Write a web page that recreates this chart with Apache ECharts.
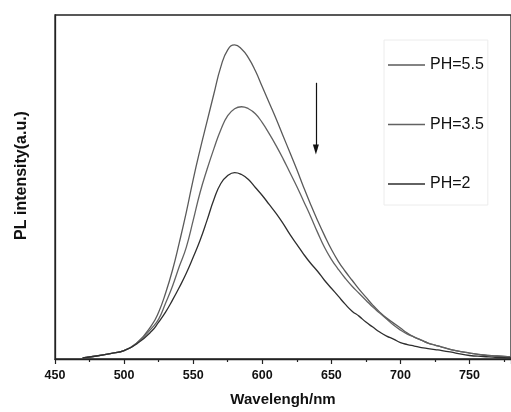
<!DOCTYPE html>
<html>
<head>
<meta charset="utf-8">
<script src="https://cdn.jsdelivr.net/npm/echarts@6/dist/echarts.min.js"></script>
<style>
html,body{margin:0;padding:0;background:#fff;}
#chart{width:511px;height:412px;}
</style>
</head>
<body>
<div id="chart"></div>
<script>
// Wavelength (nm)
var wavelengths = [470,480,490,500,510,520,
  525,530,535,540,545,550,555,560,565,570,575,580,585,590,595,600,605,610,615,620,
  625,630,635,640,645,650,655,660,665,670,675,680,685,690,695,700,705,710,715,720,725,730,
  740,750,760,770,780];
// PL intensity (a.u.)
var ph55 = [1,3,5.5,8.5,17,34,
  47,66,89,117,147,180,210,238,266,293,310,315,311,302,289,273,257,241,224,207,
  190,172,155,139,124,110,98,88,79,70,62,54,47,41,36,31,26,22,19,16,14,12,
  8.5,6,4,3,2];
var ph35 = [1,3,5.5,8.5,17,31,
  40,56,73,93,112,139,167,190,211,230,244,251,253,251,246,237,226,214,201,187,
  173,158,143,127,112,100,90,81,73,66,59,52,46,40,34,29,25,22,19,16,14,12,
  8.5,6,4,3,2];
var ph2 = [1,3,5.5,8.5,16,28,
  37,47,59,72,86,102,119,139,160,176,184,187,185,180,172,164,155,146,136,125,
  115,105,96,88,79,71,63,55,48,43,37,32,27,23,20,16.5,14.5,13,11.5,10.5,9.5,8.5,
  6,3.5,2.5,1.5,1];
var seriesNames = ['PH=5.5','PH=3.5','PH=2'];
var xTicks = [450,500,550,600,650,700,750];
// Arrow annotation (wavelength, intensity)
var arrowStart = [638.8, 277];
var arrowEnd = [638.8, 210];

function pairs(ys){ return wavelengths.map(function(w,i){ return [w, ys[i]]; }); }

var chart = echarts.init(document.getElementById('chart'), null, {renderer:'canvas'});
var fontFam = '"Liberation Sans", Arial, sans-serif';
var colors = ['#5a5a5a','#626262','#2e2e2e'];
var data = [ph55, ph35, ph2];

var series = seriesNames.map(function(n, i){
  var s = {
    name: n, type: 'line', data: pairs(data[i]), smooth: 0.5, symbol: 'none',
    lineStyle: {color: colors[i], width: 1.3}, itemStyle: {color: colors[i]},
    z: 3 + i
  };
  if (i === 0) {
    s.markLine = {
      silent: true, symbol: ['none','triangle'], symbolSize: [6, 10],
      label: {show: false},
      lineStyle: {color: '#111', width: 1.2, type: 'solid'},
      emphasis: {disabled: true},
      data: [[{coord: arrowStart}, {coord: arrowEnd}]]
    };
  }
  return s;
});

chart.setOption({
  animation: false,
  backgroundColor: '#fff',
  grid: {left: 55, right: -6, top: 15, bottom: 52, show: true, borderColor: '#222', borderWidth: 1.3},
  legend: {
    data: seriesNames, orient: 'vertical', left: 384, top: 40,
    icon: 'rect', itemWidth: 37, itemHeight: 1.5, itemGap: 43.5,
    padding: [17, 4, 13, 4], borderColor: '#ececec', borderWidth: 1, backgroundColor: '#fff',
    textStyle: {fontFamily: fontFam, fontSize: 16, color: '#111'}
  },
  xAxis: {
    type: 'value', min: 450, max: 780, interval: 50,
    name: 'Wavelengh/nm', nameLocation: 'middle', nameGap: 33,
    nameTextStyle: {fontFamily: fontFam, fontSize: 15, fontWeight: 'bold', color: '#111'},
    axisLine: {lineStyle: {color: '#222', width: 1.3}},
    axisTick: {length: 5, lineStyle: {color: '#222', width: 1.2}},
    minorTick: {show: true, splitNumber: 2, length: 3, lineStyle: {color: '#222', width: 1.2}},
    axisLabel: {margin: 10, fontFamily: fontFam, fontSize: 12.5, fontWeight: 'bold', color: '#111',
      showMaxLabel: false,
      formatter: function(v){ return xTicks.indexOf(v) >= 0 ? String(v) : ''; }},
    splitLine: {show: false}
  },
  yAxis: {
    type: 'value', min: 0, max: 345,
    name: 'PL intensity(a.u.)', nameLocation: 'middle', nameGap: 25,
    nameTextStyle: {fontFamily: fontFam, fontSize: 16, fontWeight: 'bold', color: '#111', padding: [0,0,0,23]},
    axisLine: {show: true, lineStyle: {color: '#222', width: 1.3}},
    axisTick: {show: false}, axisLabel: {show: false}, splitLine: {show: false}
  },
  series: series
});
</script>
</body>
</html>
